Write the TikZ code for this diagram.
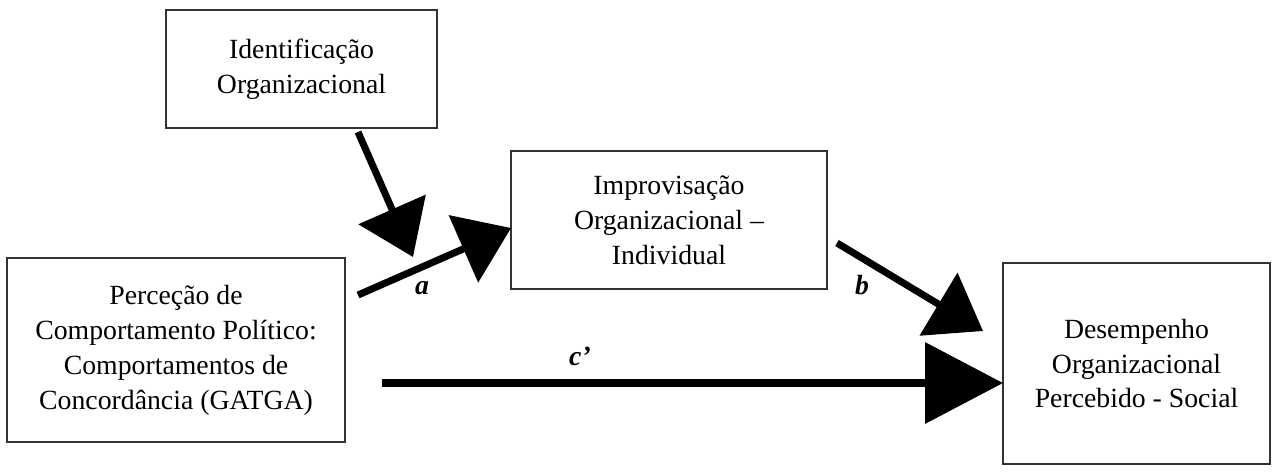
\documentclass[tikz,border=0pt]{standalone}
\usepackage{fontspec}
\setmainfont{Liberation Serif}
\usetikzlibrary{positioning,arrows.meta}

\begin{document}
\begin{tikzpicture}[x=0.02cm, y=-0.02cm,
  box/.style={draw=black!80, line width=0.8pt, inner sep=0pt, outer sep=0pt, align=center,
    font=\fontsize{15.8}{19.9}\selectfont},
  lbl/.style={font=\fontsize{15.8}{19.9}\selectfont\bfseries\itshape},
  arr/.style={line width=4pt, -{Triangle[length=1.04cm, width=1.44cm]}},
  bigarr/.style={line width=4pt, -{Triangle[length=1.56cm, width=1.6cm]}}]
  \useasboundingbox (0,0) rectangle (1277,471);
  \node[box, minimum width=5.42cm, minimum height=2.36cm] (ident) at (301.5,69) {Identificação\\Organizacional};
  \node[box, minimum width=6.32cm, minimum height=2.76cm] (impro) at (669,220) {Improvisação\\Organizacional –\\Individual};
  \node[box, minimum width=6.76cm, minimum height=3.68cm] (perc) at (176,350) {Perceção de\\Comportamento Político:\\Comportamentos de\\Concordância (GATGA)};
  \node[box, minimum width=5.34cm, minimum height=4.02cm] (desemp) at (1136.5,363.5) {Desempenho\\Organizacional\\Percebido - Social};
  % pontas livres das setas
  \coordinate (i0) at (358,132);
  \coordinate (i1) at (413,257);
  \coordinate (a0) at (358,295);
  \coordinate (b0) at (837,243);
  \coordinate (c0) at (382,383);
  \draw[arr] (i0) -- (i1);
  \draw[arr] (a0) -- (impro.west |- 0,228);
  \draw[arr] (b0) -- (983,331);
  \draw[bigarr] (c0) -- (desemp.west |- c0);
  \node[lbl] (la) at (422,288) {a};
  \node[lbl] (lb) at (862,285) {b};
  \node[lbl] (lc) at (580,356) {c’};
\end{tikzpicture}
\end{document}
